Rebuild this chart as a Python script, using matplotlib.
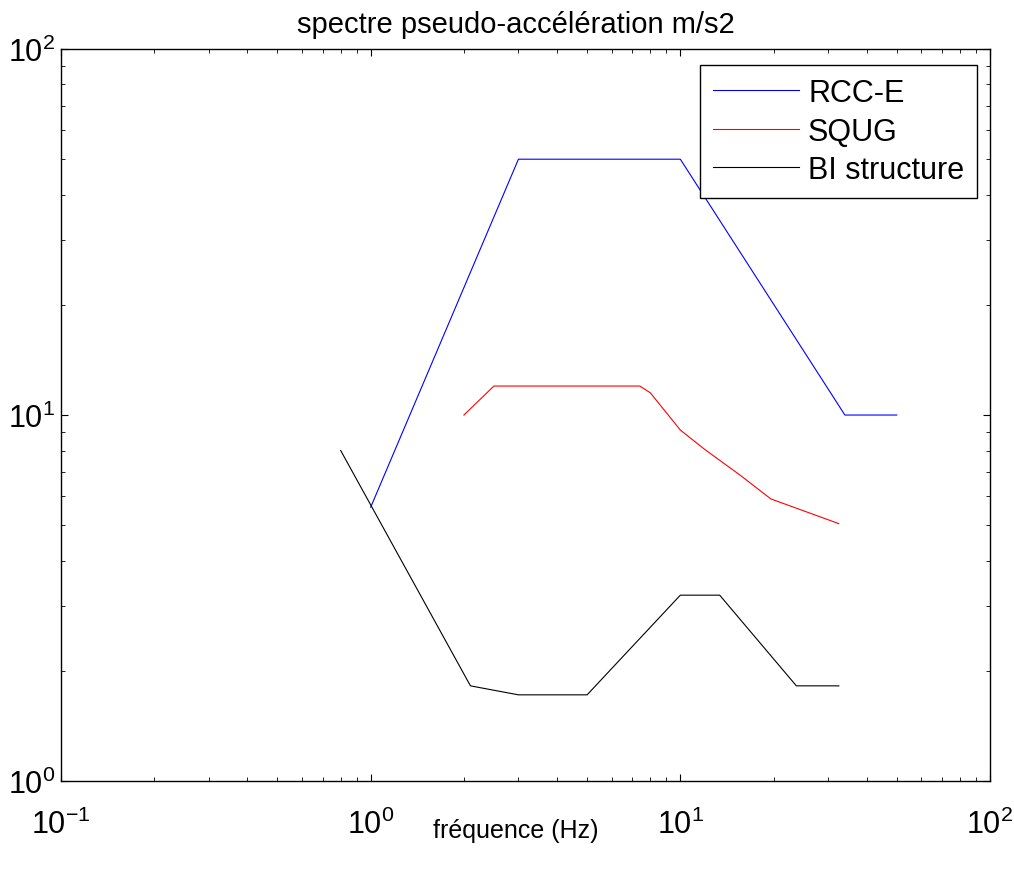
import numpy as np
import matplotlib
matplotlib.use('Agg')
import matplotlib.pyplot as plt

plt.rcParams['font.family'] = ['Liberation Sans', 'DejaVu Sans']
plt.rcParams['mathtext.default'] = 'regular'

# spectre RCC-E
f_rcc = [1.0, 3.0, 10.0, 34.0, 50.0]
a_rcc = [5.6, 50.0, 50.0, 10.0, 10.0]

# spectre SQUG
f_squg = [2.0, 2.5, 7.4, 8.0, 10.0, 12.0, 15.6, 19.6, 32.5]
a_squg = [10.0, 12.0, 12.0, 11.5, 9.1, 8.05, 6.85, 5.9, 5.05]

# spectre BI structure
f_bi = [0.8, 2.1, 3.0, 5.0, 10.0, 13.4, 23.7, 32.5]
a_bi = [8.0, 1.82, 1.72, 1.72, 3.22, 3.22, 1.82, 1.82]

fig = plt.figure(figsize=(10.14, 8.70), dpi=100)
ax = fig.add_axes([0.0602, 0.1011, 0.9161, 0.8414])

ax.loglog(f_rcc, a_rcc, color='blue', lw=0.8, label='RCC-E')
ax.loglog(f_squg, a_squg, color='red', lw=0.8, label='SQUG')
ax.loglog(f_bi, a_bi, color='black', lw=0.8, label='BI structure')

ax.set_xlim(0.1, 100)
ax.set_ylim(1, 100)
ax.tick_params(which='both', direction='in', top=True, right=True)
ax.tick_params(which='major', length=5, labelsize=22)
ax.tick_params(which='minor', length=3)
ax.tick_params(axis='x', which='both', pad=20)
ax.tick_params(axis='y', which='both', pad=4)
for s in ax.spines.values():
    s.set_linewidth(1.0)

ax.set_title('spectre pseudo-accélération m/s2', fontsize=21, x=0.49, pad=12)
ax.set_xlabel('fréquence (Hz)', fontsize=18)
ax.xaxis.set_label_coords(0.49, -0.050, transform=ax.transAxes)
ax.xaxis.label.set_va('top')

leg = ax.legend(loc='upper right', bbox_to_anchor=(0.986, 0.978), borderaxespad=0,
                fontsize=22, fancybox=False, edgecolor='black', framealpha=1,
                handlelength=2.8, labelspacing=0.28, borderpad=0.42, handletextpad=0.3)
leg.get_frame().set_linewidth(1.0)

plt.savefig('out.png', dpi=100)
